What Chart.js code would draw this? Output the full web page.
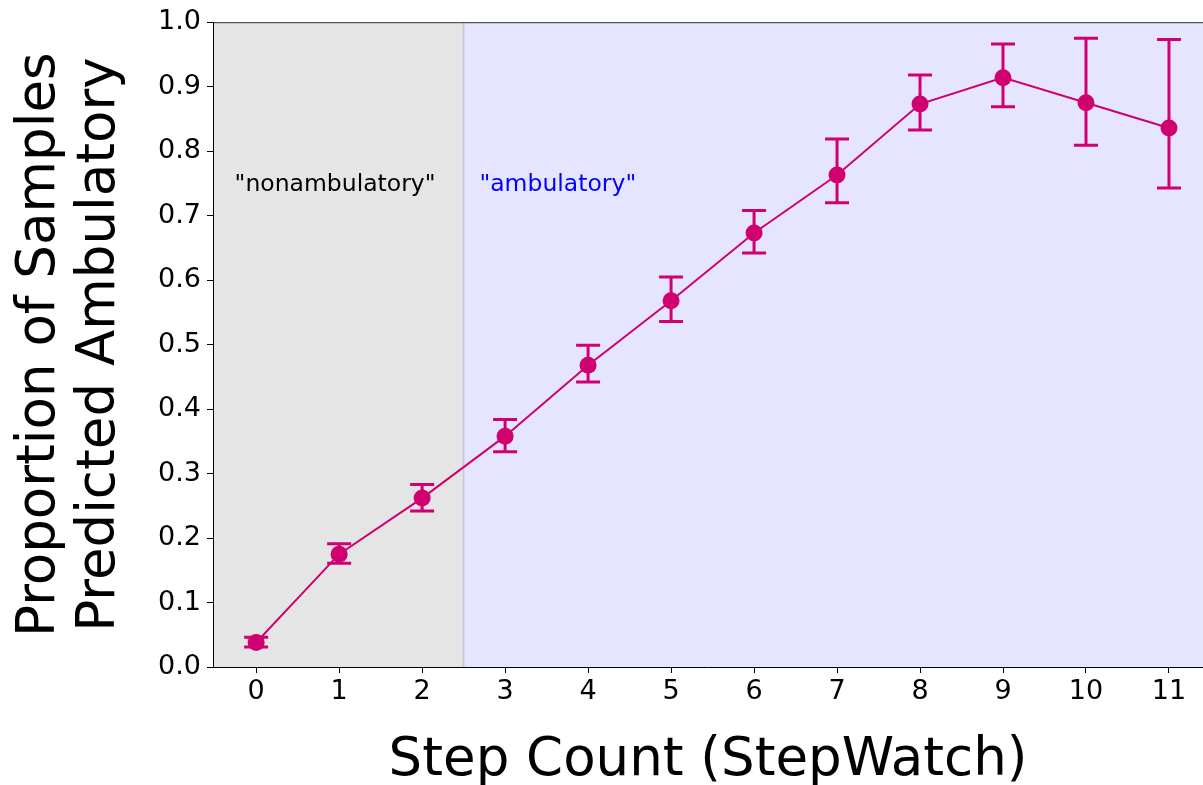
<!DOCTYPE html>
<html>
<head>
<meta charset="utf-8">
<script src="https://cdn.jsdelivr.net/npm/chart.js@4/dist/chart.umd.min.js"></script>
<style>
  html, body { margin: 0; padding: 0; background: #fff; overflow: hidden; }
  #wrap { width: 1203px; height: 785px; }
  canvas { display: block; }
</style>
</head>
<body>
<div id="wrap"><canvas id="chart" width="1203" height="785"></canvas></div>
<script>
// ------------------------------
// Data.
const stepCounts = [0, 1, 2, 3, 4, 5, 6, 7, 8, 9, 10, 11];
const proportion = [0.038, 0.175, 0.262, 0.358, 0.468, 0.568, 0.673, 0.763, 0.873, 0.914, 0.875, 0.836];
const errLow     = [0.031, 0.161, 0.242, 0.334, 0.442, 0.536, 0.642, 0.720, 0.833, 0.869, 0.809, 0.743];
const errHigh    = [0.046, 0.191, 0.283, 0.384, 0.499, 0.605, 0.708, 0.819, 0.918, 0.966, 0.975, 0.973];
const yTicks = [0.0, 0.1, 0.2, 0.3, 0.4, 0.5, 0.6, 0.7, 0.8, 0.9, 1.0];
const regionSplit = 2.5;

const FONT = "'DejaVu Sans', sans-serif";
const LINE_COLOR = '#d10070';

// ------------------------------
// Shaded regions behind the plot, plus top spine.
const regionsPlugin = {
  id: 'regionsPlugin',
  beforeDraw: function(chart) {
    const ctx = chart.ctx;
    const area = chart.chartArea;
    const xs = chart.scales.x;
    const split = xs.getPixelForValue(regionSplit);
    ctx.save();
    ctx.fillStyle = '#e5e5e5';
    ctx.fillRect(area.left, area.top, split - area.left, area.bottom - area.top);
    ctx.fillStyle = '#e5e5ff';
    ctx.fillRect(split, area.top, area.right - split, area.bottom - area.top);
    ctx.strokeStyle = '#c4c4e0';
    ctx.lineWidth = 1.5;
    ctx.beginPath();
    ctx.moveTo(split, area.top);
    ctx.lineTo(split, area.bottom);
    ctx.stroke();
    ctx.strokeStyle = '#333';
    ctx.lineWidth = 1;
    ctx.beginPath();
    ctx.moveTo(area.left, area.top + 0.5);
    ctx.lineTo(area.right, area.top + 0.5);
    ctx.stroke();
    ctx.restore();
  }
};

// ------------------------------
// Region labels and error bars (drawn under the markers).
const errorBarPlugin = {
  id: 'errorBarPlugin',
  beforeDatasetsDraw: function(chart) {
    const ctx = chart.ctx;
    const xs = chart.scales.x;
    const ys = chart.scales.y;

    ctx.save();
    ctx.font = '23.5px ' + FONT;
    ctx.textBaseline = 'alphabetic';
    ctx.textAlign = 'left';
    ctx.fillStyle = '#000';
    ctx.fillText('"nonambulatory"', xs.getPixelForValue(-0.26), ys.getPixelForValue(0.738));
    ctx.fillStyle = '#0000ff';
    ctx.fillText('"ambulatory"', xs.getPixelForValue(2.69), ys.getPixelForValue(0.738));

    ctx.strokeStyle = LINE_COLOR;
    ctx.lineWidth = 3;
    const cap = 12;
    stepCounts.forEach(function(x, i) {
      const px = xs.getPixelForValue(x);
      const lo = ys.getPixelForValue(errLow[i]);
      const hi = ys.getPixelForValue(errHigh[i]);
      ctx.beginPath();
      ctx.moveTo(px, lo);
      ctx.lineTo(px, hi);
      ctx.moveTo(px - cap, lo);
      ctx.lineTo(px + cap, lo);
      ctx.moveTo(px - cap, hi);
      ctx.lineTo(px + cap, hi);
      ctx.stroke();
    });
    ctx.restore();
  }
};

const ctx = document.getElementById('chart').getContext('2d');
new Chart(ctx, {
  type: 'line',
  data: {
    datasets: [{
      data: stepCounts.map(function(x, i) { return { x: x, y: proportion[i] }; }),
      borderColor: LINE_COLOR,
      backgroundColor: LINE_COLOR,
      borderWidth: 2,
      pointRadius: 8.5,
      pointBorderWidth: 0,
      pointBackgroundColor: LINE_COLOR,
      tension: 0,
      fill: false
    }]
  },
  options: {
    responsive: false,
    animation: false,
    layout: { autoPadding: false, padding: { top: 21, right: 0, bottom: 0, left: 0 } },
    plugins: {
      legend: { display: false },
      tooltip: { enabled: false }
    },
    scales: {
      x: {
        type: 'linear',
        min: -0.52,
        max: 11.41,
        afterBuildTicks: function(scale) {
          scale.ticks = stepCounts.map(function(v) { return { value: v }; });
        },
        afterFit: function(scale) { scale.height = 118; },
        ticks: {
          color: '#000',
          font: { family: FONT, size: 27 },
          padding: 3,
          maxRotation: 0,
          callback: function(v) { return String(v); }
        },
        grid: { display: true, drawOnChartArea: false, drawTicks: true, tickLength: 6, tickColor: '#000', tickWidth: 1 },
        border: { display: true, color: '#000', width: 1 },
        title: {
          display: true,
          text: 'Step Count (StepWatch)',
          color: '#000',
          font: { family: FONT, size: 53, lineHeight: 0.9 },
          padding: 0
        }
      },
      y: {
        min: 0,
        max: 1,
        afterBuildTicks: function(scale) {
          scale.ticks = yTicks.map(function(v) { return { value: v }; });
        },
        afterFit: function(scale) { scale.width = 213; },
        ticks: {
          color: '#000',
          font: { family: FONT, size: 27 },
          padding: 6,
          callback: function(v) { return Number(v).toFixed(1); }
        },
        grid: { display: true, drawOnChartArea: false, drawTicks: true, tickLength: 6, tickColor: '#000', tickWidth: 1 },
        border: { display: true, color: '#000', width: 1 },
        title: {
          display: true,
          text: ['Proportion of Samples', 'Predicted Ambulatory'],
          color: '#000',
          font: { family: FONT, size: 53, lineHeight: 1.12 },
          padding: { top: 11, bottom: 0 }
        }
      }
    }
  },
  plugins: [regionsPlugin, errorBarPlugin]
});
</script>
</body>
</html>
